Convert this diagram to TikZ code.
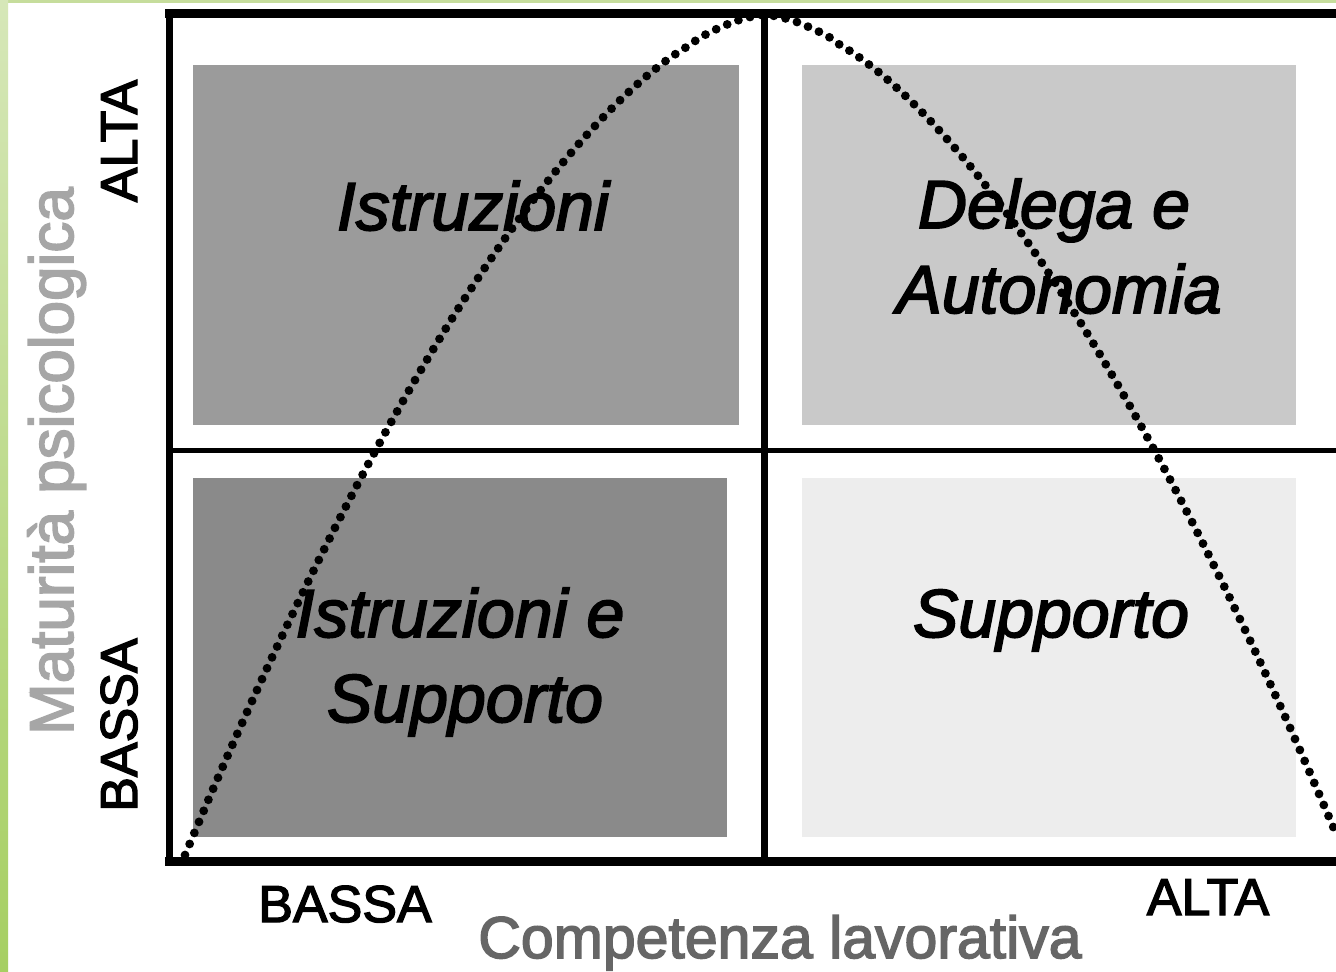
\documentclass[tikz,border=0pt]{standalone}
\usepackage{fontspec}
\setmainfont{Liberation Sans}[FakeBold=2.6]
\begin{document}
\begin{tikzpicture}[x=0.5pt,y=-0.5pt,
  quad/.style={inner sep=0pt, font=\fontsize{34}{40}\selectfont\itshape, text=black, anchor=base},
  axval/.style={inner sep=0pt, font=\fontsize{26}{30}\selectfont, text=black, anchor=base},
  axname/.style={inner sep=0pt, anchor=base},
  frameline/.style={line width=#1, draw=black, line cap=rect},
  dotcurve/.style={line width=4.4pt, line cap=round, dash pattern=on 0pt off 6pt, draw=black}
]
\definecolor{greenA}{HTML}{C6DD9C}
\definecolor{greenTop}{HTML}{D6E7B8}
\definecolor{greenBot}{HTML}{A6CF62}
\definecolor{qTL}{HTML}{9B9B9B}
\definecolor{qTR}{HTML}{C9C9C9}
\definecolor{qBL}{HTML}{8A8A8A}
\definecolor{qBR}{HTML}{EDEDED}
\definecolor{grayA}{HTML}{A6A6A6}
\definecolor{grayB}{HTML}{666666}
\useasboundingbox (0,0) rectangle (1336,972);
% background
\fill[white] (0,0) rectangle (1336,972);
\fill[greenA] (0,0) rectangle (1336,3);
\shade[top color=greenTop, bottom color=greenBot] (0,0) rectangle (8,972);
% quadrant fills
\fill[qTL] (193,65) rectangle (739,425);
\fill[qTR] (802,65) rectangle (1296,425);
\fill[qBL] (193,478) rectangle (727,837);
\fill[qBR] (802,478) rectangle (1296,837);
% dotted bell curve
\draw[dotcurve] plot[domain=-580:571, samples=140, smooth]
  ({765+\x},{15+840*((abs(\x)+0.01)/580)^1.65});
% frame
\coordinate (tl) at (169.5,14);
\coordinate (bl) at (169.5,861.5);
\coordinate (tr) at (1336,14);
\coordinate (br) at (1336,861.5);
\coordinate (mt) at (764.5,14);
\coordinate (mb) at (764.5,861.5);
\coordinate (ml) at (169.5,450.5);
\coordinate (mr) at (1336,450.5);
\draw[frameline=2.4pt] (ml) -- (mr);
\draw[frameline=3.5pt] (mt) -- (mb);
\draw[frameline=3.5pt] (bl) -- (tl);
\draw[frameline=4.5pt] (tl) -- (tr);
\draw[frameline=4.5pt] (bl) -- (br);
% quadrant labels
\node[quad] (ist) at (473,230) {Istruzioni};
\node[quad] (del1) at (1054,228) {Delega e};
\node[quad] (del2) at (1059,313) {Autonomia};
\node[quad] (iss1) at (460,637) {Istruzioni e};
\node[quad] (iss2) at (465,722) {Supporto};
\node[quad] (sup) at (1051,637) {Supporto};
% axis values
\node[axval] (xlow) at (345,922) {BASSA};
\node[axval] (xhigh) at (1208,915) {ALTA};
\node[axval, rotate=90] (yhigh) at (137,141) {ALTA};
\node[axval, rotate=90] (ylow) at (137,725) {BASSA};
% axis names
\node[axname, rotate=90, font=\fontsize{31}{36}\selectfont, text=grayA] (yname) at (73,461) {Maturità psicologica};
\node[axname, font=\fontsize{29.5}{34}\selectfont, text=grayB] (xname) at (780,958) {Competenza lavorativa};
\end{tikzpicture}
\end{document}
